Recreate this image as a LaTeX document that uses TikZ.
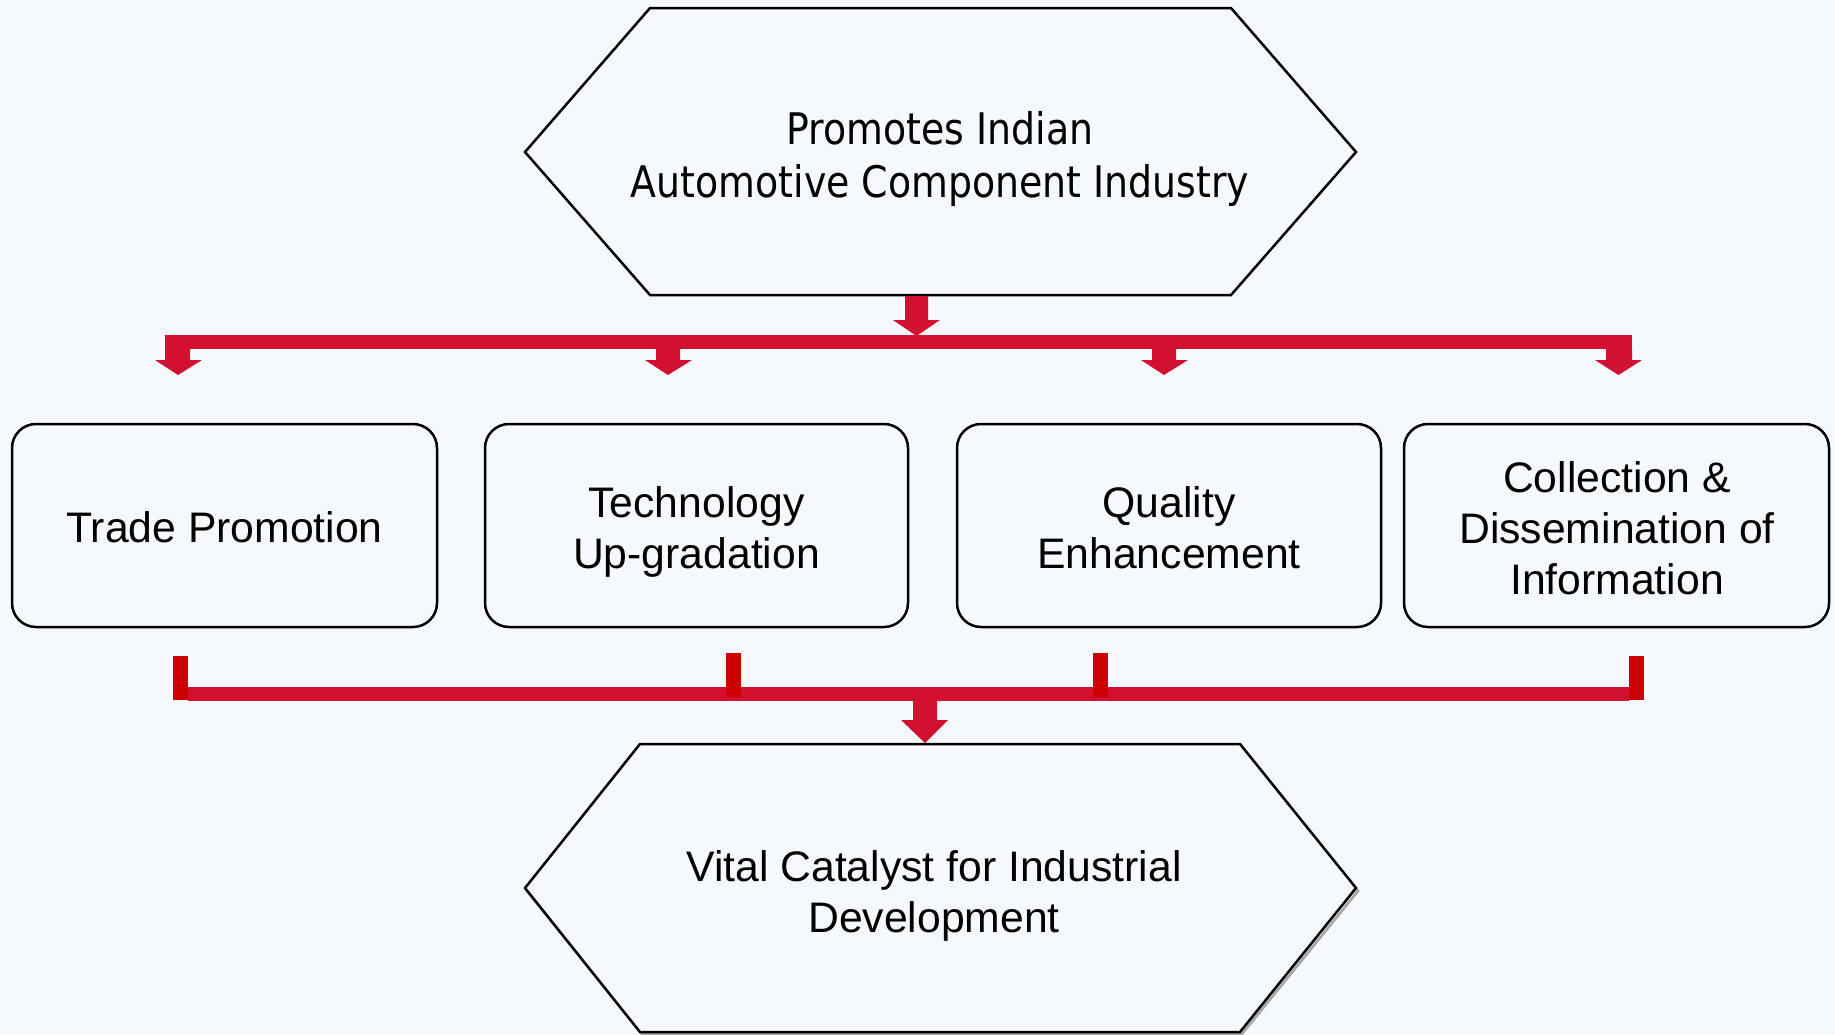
\documentclass[tikz,border=0pt]{standalone}
\usepackage{fontspec}
\setmainfont{Liberation Sans}
\newfontfamily\tahoma[FakeStretch=0.87]{DejaVu Sans}
\usetikzlibrary{positioning}
\definecolor{bgc}{RGB}{245,249,253}
\definecolor{crim}{RGB}{210,16,48}
\definecolor{stemred}{RGB}{204,0,0}
\tikzset{
  hexa/.style={draw=black,line width=2.5pt,fill=bgc,line join=miter},
  box/.style={draw=black,line width=2.5pt,rounded corners=24pt,fill=bgc},
  boxtext/.style={align=center,font=\fontsize{42.7}{51}\selectfont},
  blockarrow/.style={fill=crim,draw=none},
  stembar/.style={fill=stemred,draw=none}
}
\begin{document}
\begin{tikzpicture}[x=1pt,y=-1pt]
\fill[bgc] (0,0) rectangle (1835,1034);
\useasboundingbox (0,0) rectangle (1835,1034);
% top hexagon
\draw[hexa] (525,152) -- (650,8) -- (1231,8) -- (1356,152) -- (1231,295) -- (650,295) -- cycle;
\node[align=center,font=\tahoma\fontsize{43.5}{53}\selectfont] (top) at (940,159) {Promotes Indian\\Automotive Component Industry};
% top arrows
\fill[blockarrow] (905,296) -- (928,296) -- (928,320) -- (940,320) -- (916.5,336) -- (893,320) -- (905,320) -- cycle;
\fill[blockarrow] (165,335) rectangle (1632,349);
\fill[blockarrow] (165,349) -- (190,349) -- (190,360) -- (202,360) -- (178,375) -- (155,360) -- (165,360) -- cycle;
\fill[blockarrow] (656,349) -- (680,349) -- (680,360) -- (692,360) -- (668,375) -- (645,360) -- (656,360) -- cycle;
\fill[blockarrow] (1152,349) -- (1176,349) -- (1176,360) -- (1188,360) -- (1164,375) -- (1141,360) -- (1152,360) -- cycle;
\fill[blockarrow] (1606,349) -- (1632,349) -- (1632,360) -- (1642,360) -- (1618.5,375) -- (1595,360) -- (1606,360) -- cycle;
% boxes
\draw[box] (12,424) rectangle (437,627);
\draw[box] (485,424) rectangle (908,627);
\draw[box] (957,424) rectangle (1381,627);
\draw[box] (1404,424) rectangle (1829,627);
\node[boxtext] (b1) at (224.5,527) {Trade Promotion};
\node[boxtext] (b2) at (696.5,532) {Technology\\Up-gradation};
\node[boxtext] (b3) at (1169,528) {Quality\\Enhancement};
\node[boxtext] (b4) at (1617,528) {Collection \&\\Dissemination of\\Information};
% bottom connector
\fill[blockarrow] (188,687) rectangle (1629,701);
\fill[stembar] (173,656) rectangle (188,700);
\fill[stembar] (726,653) rectangle (741,697);
\fill[stembar] (1093,653) rectangle (1108,697);
\fill[stembar] (1629,656) rectangle (1644,700);
\fill[blockarrow] (913,701) -- (937,701) -- (937,720) -- (948,720) -- (925,743) -- (901,720) -- (913,720) -- cycle;
% bottom hexagon
\draw[line width=2.5pt,gray!70,line join=miter] (527,891) -- (642,747) -- (1242,747) -- (1358,891) -- (1242,1034) -- (642,1034) -- cycle;
\draw[hexa] (525,888) -- (640,744) -- (1240,744) -- (1356,888) -- (1240,1032) -- (640,1032) -- cycle;
\node[boxtext] (bot) at (934,896) {Vital Catalyst for Industrial\\Development};
\end{tikzpicture}
\end{document}
